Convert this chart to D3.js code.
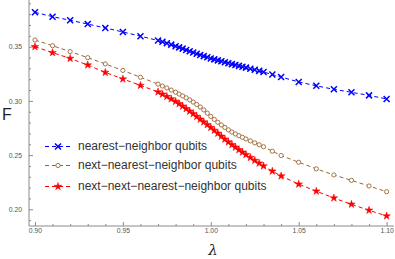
<!DOCTYPE html>
<html><head><meta charset="utf-8">
<script src="https://cdn.jsdelivr.net/npm/d3@7"></script>
<style>html,body{margin:0;padding:0;background:#fff;}svg{display:block;}</style>
</head><body><svg id="c" width="395" height="259"></svg>
<script>
const lambdas = [0.90,0.91,0.92,0.93,0.94,0.95,0.96,0.97,0.9725,0.975,0.9775,0.98,0.982,0.984,0.986,0.988,0.99,0.992,0.994,0.996,0.998,1.00,1.002,1.004,1.006,1.008,1.01,1.012,1.014,1.016,1.018,1.02,1.0225,1.025,1.0275,1.03,1.035,1.04,1.05,1.06,1.07,1.08,1.09,1.10];
const nearest = [0.3817,0.3777,0.3744,0.3709,0.3673,0.3636,0.3597,0.3557,0.3545,0.3532,0.3519,0.3505,0.3494,0.3482,0.3470,0.3458,0.3446,0.3435,0.3424,0.3413,0.3402,0.3392,0.3383,0.3374,0.3365,0.3356,0.3348,0.3339,0.3331,0.3323,0.3315,0.3307,0.3297,0.3287,0.3277,0.3266,0.3243,0.3220,0.3175,0.3139,0.3107,0.3079,0.3051,0.3018];
const nextNearest = [0.3562,0.3509,0.3455,0.3399,0.3341,0.3281,0.3218,0.3155,0.3137,0.3119,0.3100,0.3080,0.3063,0.3046,0.3028,0.3009,0.2989,0.2967,0.2944,0.2917,0.2887,0.2857,0.2829,0.2803,0.2778,0.2755,0.2733,0.2713,0.2695,0.2679,0.2664,0.2649,0.2631,0.2613,0.2595,0.2577,0.2536,0.2496,0.2434,0.2373,0.2317,0.2267,0.2215,0.2162];
const nextNextNearest = [0.3500,0.3445,0.3392,0.3331,0.3263,0.3202,0.3143,0.3083,0.3062,0.3040,0.3018,0.2995,0.2973,0.2951,0.2928,0.2905,0.2881,0.2856,0.2830,0.2805,0.2780,0.2755,0.2728,0.2701,0.2674,0.2647,0.2621,0.2596,0.2572,0.2549,0.2526,0.2504,0.2477,0.2451,0.2425,0.2399,0.2352,0.2307,0.2232,0.2167,0.2104,0.2046,0.1991,0.1938];
const seriesNames = ["nearest\u2212neighbor qubits","next\u2212nearest\u2212neighbor qubits","next\u2212next\u2212nearest\u2212neighbor qubits"];
const xTicks = [0.90,0.95,1.00,1.05,1.10];
const xTickLabels = ["0.90","0.95","1.00","1.05","1.10"];
const yTicks = [0.20,0.25,0.30,0.35];
const yTickLabels = ["0.20","0.25","0.30","0.35"];
const xMinor = [0.91,0.92,0.93,0.94,0.96,0.97,0.98,0.99,1.01,1.02,1.03,1.04,1.06,1.07,1.08,1.09];
const yMinor = [0.19,0.21,0.22,0.23,0.24,0.26,0.27,0.28,0.29,0.31,0.32,0.33,0.34,0.36,0.37,0.38,0.39];

const svg = d3.select("#c");
const L = 29, R = 394, T = 0, B = 226;
const x = d3.scaleLinear().domain([0.8966, 1.1042]).range([L, R]);
const y = d3.scaleLinear().domain([0.35 + 46.7/1084, 0.35 - (226-46.7)/1084]).range([T, B]);
const axisColor = "#8a8a8a";
const labelColor = "#555";
const font = "Liberation Sans, Arial, sans-serif";

// axes
const yAx = svg.append("g").attr("transform", `translate(${L},0)`)
  .call(d3.axisLeft(y).tickValues(yTicks).tickFormat((d,i)=>yTickLabels[i]).tickSizeInner(-4).tickSizeOuter(0).tickPadding(7));
yAx.select(".domain").remove();
yAx.selectAll("line").attr("stroke", axisColor);
yAx.selectAll("text").attr("font-size", 6.8).attr("font-family", font).attr("fill", labelColor);
svg.append("g").attr("transform", `translate(${L},0)`)
  .call(d3.axisLeft(y).tickValues(yMinor).tickFormat("").tickSizeInner(-2).tickSizeOuter(0))
  .call(g => { g.select(".domain").remove(); g.selectAll("line").attr("stroke", axisColor); });

const xAx = svg.append("g").attr("transform", `translate(0,${B})`)
  .call(d3.axisBottom(x).tickValues(xTicks).tickFormat((d,i)=>xTickLabels[i]).tickSizeInner(-4).tickSizeOuter(0).tickPadding(2));
xAx.select(".domain").remove();
xAx.selectAll("line").attr("stroke", axisColor);
xAx.selectAll("text").attr("font-size", 6.8).attr("font-family", font).attr("fill", labelColor);
svg.append("g").attr("transform", `translate(0,${B})`)
  .call(d3.axisBottom(x).tickValues(xMinor).tickFormat("").tickSizeInner(-2).tickSizeOuter(0))
  .call(g => { g.select(".domain").remove(); g.selectAll("line").attr("stroke", axisColor); });

svg.append("line").attr("x1", L).attr("x2", L).attr("y1", T).attr("y2", B).attr("stroke", axisColor).attr("stroke-width", 1);
svg.append("line").attr("x1", L).attr("x2", R).attr("y1", B).attr("y2", B).attr("stroke", axisColor).attr("stroke-width", 1);

// axis titles
svg.append("text").attr("x", 2).attr("y", 119.5).text("F")
  .attr("font-size", 16).attr("font-family", font).attr("fill", "#222");
svg.append("text").attr("x", 213).attr("y", 255).text("\u03bb").attr("text-anchor", "middle")
  .attr("font-size", 15).attr("font-style", "italic").attr("font-family", "DejaVu Serif, serif").attr("fill", "#222");

// series
const series = [
  {vals: nearest, color: "#0000ff", marker: "cross"},
  {vals: nextNearest, color: "#996633", marker: "circle"},
  {vals: nextNextNearest, color: "#ff0000", marker: "star"}
];
const line = d3.line().x(d => x(d[0])).y(d => y(d[1]));
const starSym = d3.symbol().type(d3.symbolStar).size(18);
function drawMarker(g, cx, cy, s) {
  if (s.marker === "cross") {
    const r = 3;
    g.append("path").attr("d", `M${cx-r},${cy-r}L${cx+r},${cy+r}M${cx-r},${cy+r}L${cx+r},${cy-r}`)
      .attr("stroke", s.color).attr("stroke-width", 1.5).attr("fill", "none");
  } else if (s.marker === "circle") {
    g.append("circle").attr("cx", cx).attr("cy", cy).attr("r", 2.1)
      .attr("fill", "#fff").attr("stroke", s.color).attr("stroke-width", 0.9);
  } else {
    g.append("path").attr("d", starSym()).attr("transform", `translate(${cx},${cy})`)
      .attr("fill", s.color).attr("stroke", s.color).attr("stroke-width", 0.5);
  }
}
series.forEach(s => {
  const pts = lambdas.map((l, i) => [l, s.vals[i]]);
  svg.append("path").datum(pts).attr("d", line).attr("fill", "none")
    .attr("stroke", s.color).attr("stroke-width", 1).attr("stroke-dasharray", "4,3");
  const g = svg.append("g");
  pts.forEach(p => drawMarker(g, x(p[0]), y(p[1]), s));
});

// legend
const legY = [146.5, 165.5, 186.5];
series.forEach((s, i) => {
  const g = svg.append("g");
  g.append("line").attr("x1", 45).attr("x2", 70).attr("y1", legY[i]).attr("y2", legY[i])
    .attr("stroke", s.color).attr("stroke-width", 1).attr("stroke-dasharray", "4,3");
  drawMarker(g, 58, legY[i], s);
  g.append("text").attr("x", 78).attr("y", legY[i] + 3.5).text(seriesNames[i])
    .attr("font-size", 12).attr("font-family", font).attr("fill", "#333");
});
</script></body></html>
